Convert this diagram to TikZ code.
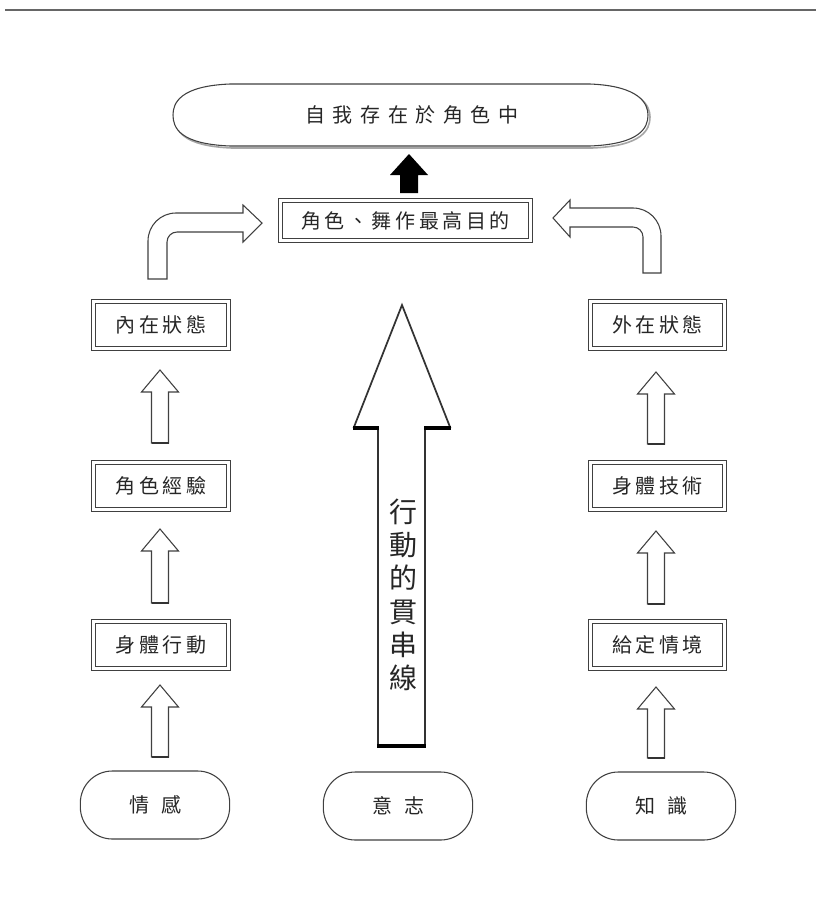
\documentclass[tikz,border=0pt]{standalone}
\usepackage{fontspec}
\newfontfamily\cjk{Noto Sans CJK TC}
\newcommand\blockup[3]{%
  \draw[blk] ({#1-8.5},#3) -- ({#1-8.5},{#2+22}) -- ({#1-18.5},{#2+22}) -- (#1,#2)
    -- ({#1+18.5},{#2+22}) -- ({#1+8.5},{#2+22}) -- ({#1+8.5},#3) -- cycle;
  \draw[line width=1.4pt,black!80] ({#1-8.5},#3) -- ({#1+8.5},#3);}
\begin{document}
\begin{tikzpicture}[x=0.75pt,y=-0.75pt,
  lab/.style={font=\cjk\fontsize{15}{18}\selectfont\addfontfeature{LetterSpace=18}, text=black!85},
  dbox/.style={lab, draw=black!75, line width=0.7pt, double=white, double distance=2.2pt,
    minimum height=35pt, inner sep=0pt},
  stadium/.style={lab, draw=black!75, line width=0.8pt, rounded corners=24pt,
    minimum width=112pt, minimum height=51pt, inner sep=0pt},
  blk/.style={draw=black!75, line width=0.8pt, fill=white}]
\useasboundingbox (0,0) rectangle (816,903);
\fill[white] (0,0) rectangle (816,903);
\draw[black!60, line width=1.8pt] (5,10) -- (816,10);

% top ellipse
\draw[black!35, line width=1.2pt] (232,86) -- (592,86) .. controls (642,88) and (650,106) .. (650,117)
  .. controls (650,130) and (642,146) .. (592,148) -- (232,148)
  .. controls (182,146) and (175,130) .. (175,117) .. controls (175,105) and (182,88) .. (232,86) -- cycle;
\draw[black!75, line width=0.8pt, fill=white] (230,84) -- (590,84) .. controls (640,86) and (648,104) .. (648,115)
  .. controls (648,128) and (640,144) .. (590,146) -- (230,146)
  .. controls (180,144) and (173,128) .. (173,115) .. controls (173,103) and (180,86) .. (230,84) -- cycle;
\node[lab, font=\cjk\fontsize{15}{18}\selectfont\addfontfeature{LetterSpace=38}] (self) at (412,115) {自我存在於角色中};

% black arrow
\fill[black] (400,193) -- (400,175) -- (390,175) -- (409,154) -- (428,175) -- (418,175) -- (418,193) -- cycle;

% main goal box
\node[dbox, minimum width=187pt, minimum height=30pt] (goal) at (405.5,220.5) {角色、舞作最高目的};

% bent arrows
\draw[blk] (148,279) -- (148,241) .. controls (148,225.5) and (160.5,213) .. (176,213) -- (243,213)
  -- (243,205) -- (262,223) -- (243,242) -- (243,232) -- (177,232)
  .. controls (171.5,232) and (167,236.5) .. (167,242) -- (167,279) -- cycle;
\draw[blk] (661,273) -- (661,236) .. controls (661,220.5) and (648.5,208) .. (633,208) -- (570,208)
  -- (570,200) -- (553,218) -- (570,237) -- (570,227) -- (633,227)
  .. controls (638.5,227) and (643,231.5) .. (643,237) -- (643,273) -- cycle;

% left column
\node[dbox, minimum width=101pt] (inner) at (161,325) {內在狀態};
\node[dbox, minimum width=101pt] (exp) at (161,486) {角色經驗};
\node[dbox, minimum width=101pt] (body) at (161,645) {身體行動};
% right column
\node[dbox, minimum width=100pt] (outer) at (657.5,325) {外在狀態};
\node[dbox, minimum width=100pt] (tech) at (657.5,486) {身體技術};
\node[dbox, minimum width=100pt] (given) at (657.5,645) {給定情境};

% small arrows
\blockup{160}{370}{443}
\blockup{160}{529}{603}
\blockup{160}{685}{757}
\blockup{656}{372}{444}
\blockup{656}{531}{604}
\blockup{656}{687}{758}

% big arrow
\draw[draw=black!80, line width=1.3pt, fill=white] (378,745) -- (378,427) -- (354,427) -- (402,305)
  -- (450,427) -- (425,427) -- (425,745) -- cycle;
\draw[black, line width=2.8pt] (353,428) -- (379,428);
\draw[black, line width=2.8pt] (424,428) -- (451,428);
\draw[black, line width=3pt] (377,746) -- (426,746);
\node[font=\cjk\fontsize{21}{25}\selectfont, text=black!85, align=center] (thru) at (403,595)
  {行\\動\\的\\貫\\串\\線};

% bottom stadiums
\node[stadium] (emo) at (155,805) {情\hspace{0.6em}感};
\node[stadium] (will) at (398,806) {意\hspace{0.6em}志};
\node[stadium] (know) at (661,806) {知\hspace{0.6em}識};
\end{tikzpicture}
\end{document}
